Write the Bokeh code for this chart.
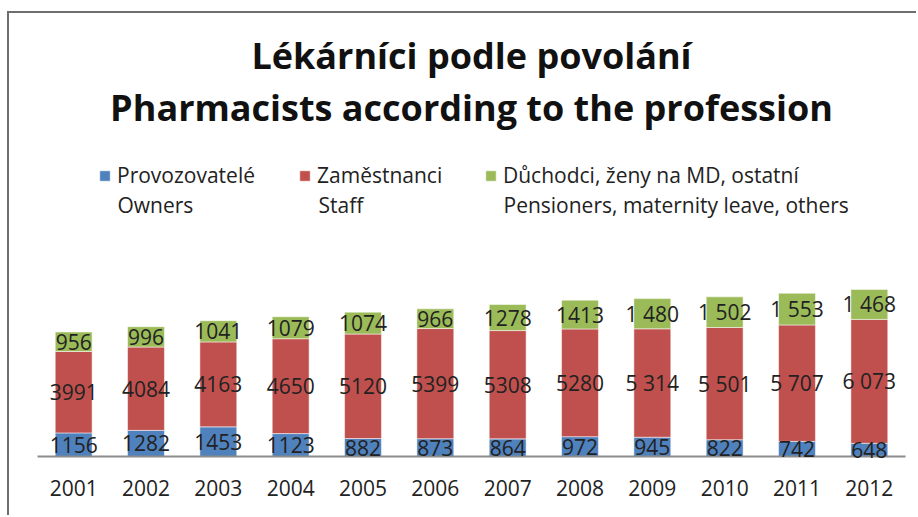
from bokeh.plotting import figure
from bokeh.models import (ColumnDataSource, Range1d, LabelSet, Legend, LegendItem, Label)
from bokeh.core.properties import value
from bokeh.embed import file_html
from bokeh.resources import INLINE

# ---- data ----
years = ["2001", "2002", "2003", "2004", "2005", "2006",
         "2007", "2008", "2009", "2010", "2011", "2012"]
owners = [1156, 1282, 1453, 1123, 882, 873, 864, 972, 945, 822, 742, 648]
staff = [3991, 4084, 4163, 4650, 5120, 5399, 5308, 5280, 5314, 5501, 5707, 6073]
others = [956, 996, 1041, 1079, 1074, 966, 1278, 1413, 1480, 1502, 1553, 1468]
names_cz = ["Provozovatelé", "Zaměstnanci", "Důchodci, ženy na MD, ostatní"]
names_en = ["Owners", "Staff", "Pensioners, maternity leave, others"]
title_lines = ["Lékárníci podle povolání", "Pharmacists according to the profession"]

colors = ["#4F81BD", "#C0504D", "#9BBB59"]
FONT = "Open Sans"
TXT = "#222222"


def fmt(v, year):
    # later years use a space as thousands separator, as in the source chart
    if int(year) >= 2009:
        return f"{v:,}".replace(",", " ")
    return str(v)


idx = list(range(len(years)))
mid_o = [o / 2 for o in owners]
mid_s = [o + s / 2 for o, s in zip(owners, staff)]
mid_t = [o + s + t / 2 for o, s, t in zip(owners, staff, others)]

source = ColumnDataSource(dict(
    x=idx, years=years, zero=[0] * len(years),
    owners=owners, staff=staff, others=others,
    mid_o=mid_o, mid_s=mid_s, mid_t=mid_t,
    lab_o=[fmt(v, y) for v, y in zip(owners, years)],
    lab_s=[fmt(v, y) for v, y in zip(staff, years)],
    lab_t=[fmt(v, y) for v, y in zip(others, years)],
))

# canvas 909 x 504; plot area: 868 px wide starting 28 px from left,
# value 0 sits 61 px above the bottom, 10000 units = 204 px
PX_X = 868 / len(years)
PX_Y = 204 / 10000
W, H = 909, 504
x_range = Range1d(-0.5 - 28 / PX_X, len(years) - 0.5 + (W - 28 - 868) / PX_X)
y_range = Range1d(-61 / PX_Y, (H - 61) / PX_Y)

p = figure(x_range=x_range, y_range=y_range, width=W, height=H,
           output_backend="svg", toolbar_location=None,
           x_axis_type=None, y_axis_type=None,
           min_border=0, min_border_left=0, min_border_right=0,
           min_border_top=0, min_border_bottom=0)
p.title = None
p.xgrid.visible = False
p.ygrid.visible = False
p.outline_line_color = None

renderers = p.vbar_stack(["owners", "staff", "others"], x="x", width=0.51,
                         color=colors, source=source, line_color="white",
                         line_width=1, line_alpha=0.5)

# category axis line
p.line(x=[-0.5, len(years) - 0.5], y=[0, 0], line_color="#8c8c8c", line_width=2)

for mid, lab in (("mid_o", "lab_o"), ("mid_s", "lab_s"), ("mid_t", "lab_t")):
    p.add_layout(LabelSet(x="x", y=mid, text=lab, source=source,
                          text_align="center", text_baseline="middle",
                          text_font=value(FONT), text_font_size="21px",
                          text_color=TXT))

# year labels under the axis
p.add_layout(LabelSet(x="x", y="zero", text="years", source=source, y_offset=-31,
                      text_align="center", text_baseline="middle",
                      text_font=value(FONT), text_font_size="21px", text_color=TXT))

# legend: one small legend per series (Czech line with swatch), English line as a label
leg_x = [89, 289, 475]
txt_x = [108, 309, 494]
for r, cz, en, lx, tx in zip(renderers, names_cz, names_en, leg_x, txt_x):
    lg = Legend(items=[LegendItem(label=cz, renderers=[r])],
                location=(lx, 328), orientation="vertical",
                label_text_font=FONT, label_text_font_size="21px",
                label_text_color=TXT, label_standoff=6,
                glyph_width=13, glyph_height=13, spacing=0, padding=0,
                border_line_alpha=0, background_fill_alpha=0)
    p.add_layout(lg)
    p.add_layout(Label(x=tx, y=313, x_units="screen", y_units="screen", text=en,
                       text_font=FONT, text_font_size="21px", text_color=TXT,
                       text_baseline="alphabetic", text_align="left"))

# two-line title
for line, yy in zip(title_lines, [462, 410]):
    p.add_layout(Label(x=462, y=yy, x_units="screen", y_units="screen", text=line,
                       text_font=FONT, text_font_size="36px", text_font_style="bold",
                       text_color="#111111", text_align="center",
                       text_baseline="alphabetic"))

p.styles = {"border-left": "2px solid #6e6e6e", "border-top": "2px solid #6e6e6e",
            "margin-left": "7px", "margin-top": "11px"}

open("out.html", "w").write(file_html(p, INLINE))
